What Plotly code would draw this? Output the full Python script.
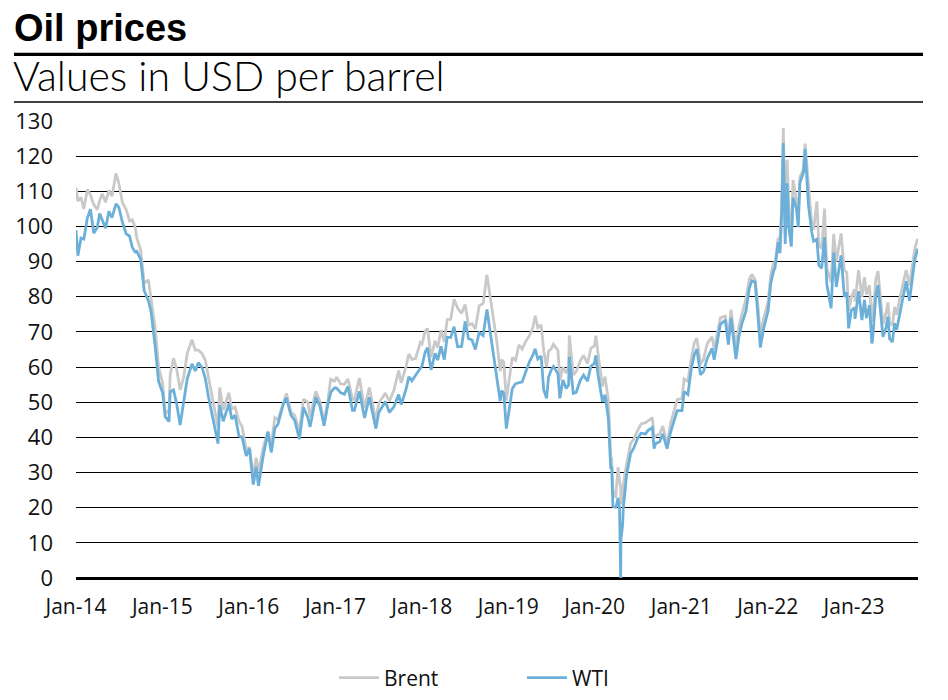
import plotly.graph_objects as go

# ---------------- data ----------------
dates_2014 = ["2014-01-01","2014-01-09","2014-01-22","2014-02-03","2014-02-18","2014-03-03","2014-03-17","2014-04-01","2014-04-11","2014-04-22","2014-05-06","2014-05-20","2014-06-02","2014-06-19","2014-07-01","2014-07-16","2014-08-01","2014-08-15","2014-08-27","2014-09-08","2014-09-15","2014-10-01","2014-10-16","2014-11-03","2014-11-14","2014-12-01","2014-12-16"]
brent_2014 = [111.0,107.2,108.3,105.0,110.5,109.0,106.2,104.8,107.3,109.3,106.9,110.3,108.6,115.1,112.3,106.8,104.8,101.6,101.9,99.8,96.7,93.4,83.8,84.8,79.4,71.4,59.9]
wti_2014 = [99.0,91.7,96.7,96.4,102.4,104.9,98.1,99.7,103.7,101.8,99.5,104.3,102.5,106.4,105.4,101.2,97.9,97.3,94.0,92.7,92.9,90.7,81.8,78.8,75.8,66.2,55.9]

dates_2015 = ["2015-01-02","2015-01-13","2015-01-29","2015-02-03","2015-02-17","2015-03-02","2015-03-17","2015-04-01","2015-04-16","2015-05-06","2015-05-20","2015-06-02","2015-06-17","2015-07-01","2015-07-15","2015-08-03","2015-08-24","2015-08-31","2015-09-15","2015-10-09","2015-10-21","2015-11-04","2015-11-20","2015-12-04","2015-12-21"]
brent_2015 = [55.4,46.6,48.0,57.9,62.5,59.5,53.5,57.1,63.9,67.8,64.8,64.8,63.9,62.0,57.1,49.5,42.7,54.2,47.8,52.7,48.1,48.6,44.7,43.0,36.4]
wti_2015 = [52.7,45.9,44.5,53.0,53.5,49.6,43.5,50.1,56.7,60.9,58.9,61.3,59.9,56.9,51.4,45.2,38.2,49.2,44.6,49.6,45.2,46.3,40.5,39.9,34.7]

dates_2016 = ["2016-01-04","2016-01-20","2016-02-01","2016-02-11","2016-03-01","2016-03-22","2016-04-05","2016-04-20","2016-05-03","2016-05-26","2016-06-08","2016-06-27","2016-07-13","2016-08-02","2016-08-19","2016-09-07","2016-09-16","2016-10-10","2016-10-27","2016-11-14","2016-11-30","2016-12-12","2016-12-28"]
brent_2016 = [37.2,28.5,34.2,30.1,36.8,41.8,37.7,45.6,45.0,49.6,52.5,47.2,46.3,41.8,50.9,49.9,45.8,53.1,50.3,44.4,50.5,56.5,56.0]
wti_2016 = [36.8,26.6,31.6,26.2,34.4,41.5,35.7,42.6,43.7,49.5,51.2,46.3,44.8,39.5,48.5,45.5,43.0,51.4,49.0,43.3,49.4,52.8,54.1]

dates_2017 = ["2017-01-06","2017-01-23","2017-02-08","2017-02-23","2017-03-14","2017-03-22","2017-04-12","2017-05-04","2017-05-24","2017-06-21","2017-07-03","2017-07-31","2017-08-17","2017-09-05","2017-09-25","2017-10-06","2017-10-27","2017-11-07","2017-11-20","2017-12-05","2017-12-26"]
brent_2017 = [57.1,55.2,55.1,56.6,50.9,50.6,56.9,48.4,54.2,44.8,49.7,52.6,50.3,53.4,59.0,55.5,60.4,63.7,62.2,62.4,67.0]
wti_2017 = [54.0,52.7,52.3,54.5,47.7,47.7,53.1,45.5,51.4,42.5,47.1,50.2,47.1,48.7,52.2,49.3,53.9,57.2,56.1,57.6,60.0]

dates_2018 = ["2018-01-02","2018-01-15","2018-01-25","2018-02-09","2018-02-26","2018-03-09","2018-03-23","2018-04-06","2018-04-18","2018-05-03","2018-05-17","2018-06-01","2018-06-18","2018-07-03","2018-07-17","2018-08-01","2018-08-15","2018-08-31","2018-09-17","2018-10-03","2018-10-17","2018-11-01","2018-11-15","2018-11-28","2018-12-04","2018-12-13","2018-12-24"]
brent_2018 = [66.6,70.3,71.0,62.8,67.5,65.5,70.5,67.1,73.5,73.6,79.3,76.8,75.3,77.8,71.9,72.4,70.8,77.4,78.1,86.3,80.1,72.9,66.6,58.8,62.1,61.5,50.5]
wti_2018 = [60.4,64.3,65.5,59.2,63.9,62.0,65.9,62.1,68.5,68.4,71.5,65.8,65.9,73.0,68.1,67.7,65.0,69.8,69.0,76.4,69.8,63.7,56.5,50.3,53.3,52.6,42.5]

dates_2019 = ["2019-01-02","2019-01-18","2019-02-01","2019-02-15","2019-03-01","2019-03-15","2019-04-01","2019-04-15","2019-04-25","2019-05-06","2019-05-20","2019-05-31","2019-06-12","2019-06-20","2019-07-01","2019-07-11","2019-07-30","2019-08-07","2019-08-20","2019-09-03","2019-09-13","2019-09-16","2019-10-03","2019-10-15","2019-11-01","2019-11-15","2019-12-02","2019-12-16","2019-12-31"]
brent_2019 = [55.0,62.7,61.9,66.3,65.1,67.2,69.0,71.2,74.6,71.2,72.0,64.5,60.0,64.5,65.1,66.5,64.7,56.2,60.0,58.3,60.2,69.0,57.7,58.7,61.7,63.3,61.0,65.3,66.0]
wti_2019 = [46.5,53.8,55.3,55.6,55.8,58.5,61.6,63.4,65.2,62.3,63.1,53.5,51.1,57.1,59.1,60.2,58.1,51.1,56.3,53.9,54.9,62.9,52.5,52.8,56.2,57.7,56.0,60.2,61.1]

dates_2020 = ["2020-01-06","2020-01-15","2020-02-03","2020-02-14","2020-02-28","2020-03-09","2020-03-13","2020-03-18","2020-03-30","2020-04-01","2020-04-09","2020-04-15","2020-04-20","2020-04-21","2020-04-28","2020-05-01","2020-05-15","2020-06-01","2020-06-15","2020-07-01","2020-07-15","2020-08-03","2020-08-14","2020-09-01","2020-09-08","2020-09-15","2020-10-01","2020-10-15","2020-11-02","2020-11-16","2020-12-01","2020-12-15"]
brent_2020 = [68.9,64.0,54.5,57.3,50.5,34.4,33.9,25.0,22.8,24.7,31.5,27.7,25.6,21.0,22.5,26.4,32.5,38.3,39.7,42.0,43.8,44.2,44.8,45.6,39.8,40.5,40.9,43.2,37.8,43.8,47.4,50.8]
wti_2020 = [63.3,58.0,50.1,52.1,45.3,31.1,31.7,20.4,20.1,20.3,22.8,19.9,0.0,11.0,15.0,19.8,29.4,35.4,37.1,39.8,41.2,41.0,42.0,42.8,36.8,38.3,38.7,41.0,36.8,41.3,44.6,47.6]

dates_2021 = ["2021-01-04","2021-01-13","2021-01-29","2021-02-12","2021-02-25","2021-03-08","2021-03-23","2021-04-05","2021-04-20","2021-05-11","2021-05-20","2021-06-15","2021-07-06","2021-07-19","2021-07-30","2021-08-20","2021-09-01","2021-09-15","2021-10-01","2021-10-15","2021-10-26","2021-11-09","2021-11-19","2021-12-01","2021-12-14","2021-12-31"]
brent_2021 = [51.1,56.6,55.9,62.4,66.9,68.2,60.8,62.2,66.6,68.6,65.1,74.0,74.5,68.6,76.3,65.2,71.6,75.5,79.3,84.9,86.4,84.8,78.9,68.9,73.7,77.8]
wti_2021 = [47.6,53.0,52.2,59.5,63.5,65.1,57.8,58.7,62.4,65.3,62.1,72.1,73.4,66.4,74.0,62.3,68.6,72.6,75.9,82.3,84.6,84.2,76.1,65.6,70.7,75.2]

dates_2022 = ["2022-01-03","2022-01-14","2022-01-26","2022-02-01","2022-02-14","2022-02-22","2022-03-01","2022-03-08","2022-03-11","2022-03-16","2022-03-24","2022-04-01","2022-04-11","2022-04-18","2022-05-02","2022-05-10","2022-05-17","2022-06-01","2022-06-08","2022-06-22","2022-07-06","2022-07-14","2022-07-28","2022-08-05","2022-08-17","2022-08-29","2022-09-08","2022-09-26","2022-10-07","2022-10-18","2022-11-07","2022-11-21","2022-12-01","2022-12-09","2022-12-20"]
brent_2022 = [78.9,86.1,89.9,89.2,96.5,96.8,105.0,128.0,112.7,98.0,119.0,104.4,98.5,113.2,107.6,102.5,114.0,116.3,123.6,111.7,100.7,99.1,107.1,94.9,93.7,105.1,88.2,84.1,97.9,90.0,98.0,87.5,86.9,76.1,79.9]
wti_2022 = [76.1,83.8,87.4,88.2,95.5,92.4,103.4,123.7,109.3,95.0,112.3,99.3,94.3,108.2,105.2,99.8,112.4,115.3,122.1,106.2,98.5,95.8,96.4,89.0,88.1,97.0,83.5,76.7,92.6,82.8,91.8,80.0,81.2,71.0,76.1]

dates_2023 = ["2023-01-03","2023-01-05","2023-01-20","2023-02-03","2023-02-14","2023-02-22","2023-03-07","2023-03-17","2023-03-20","2023-04-03","2023-04-12","2023-05-03","2023-05-15","2023-05-24","2023-05-31","2023-06-12","2023-06-21","2023-06-30","2023-07-14","2023-07-31","2023-08-09","2023-08-23","2023-08-31","2023-09-08","2023-09-15","2023-09-27"]
brent_2023 = [82.1,78.7,87.6,79.9,85.6,80.6,83.3,73.0,73.8,84.9,87.3,72.3,75.2,78.4,72.7,71.8,77.1,74.9,79.9,85.6,87.6,83.2,86.9,90.6,93.9,96.5]
wti_2023 = [76.9,73.7,81.6,73.4,79.1,73.9,77.6,66.7,67.6,80.4,83.3,68.6,71.1,74.3,68.1,67.1,72.5,70.6,75.4,81.8,84.4,78.9,83.6,87.5,90.8,93.7]

tick_dates = ["2014-01-01","2015-01-01","2016-01-01","2017-01-01","2018-01-01",
              "2019-01-01","2020-01-01","2021-01-01","2022-01-01","2023-01-01"]
tick_labels = ["Jan-14","Jan-15","Jan-16","Jan-17","Jan-18",
               "Jan-19","Jan-20","Jan-21","Jan-22","Jan-23"]
y_ticks = [0,10,20,30,40,50,60,70,80,90,100,110,120,130]

dates = (dates_2014 + dates_2015 + dates_2016 + dates_2017 + dates_2018 +
         dates_2019 + dates_2020 + dates_2021 + dates_2022 + dates_2023)
brent = (brent_2014 + brent_2015 + brent_2016 + brent_2017 + brent_2018 +
         brent_2019 + brent_2020 + brent_2021 + brent_2022 + brent_2023)
wti = (wti_2014 + wti_2015 + wti_2016 + wti_2017 + wti_2018 +
       wti_2019 + wti_2020 + wti_2021 + wti_2022 + wti_2023)
assert len(dates) == len(brent) == len(wti)

# ---------------- figure ----------------
FONT = "Open Sans, Noto Sans, sans-serif"
BRENT_C = "#c9c9c9"
WTI_C = "#6cb0da"

fig = go.Figure()
fig.add_trace(go.Scatter(x=dates, y=brent, name="Brent", mode="lines",
                         line=dict(color=BRENT_C, width=2.8)))
fig.add_trace(go.Scatter(x=dates, y=wti, name="WTI", mode="lines",
                         line=dict(color=WTI_C, width=2.8)))

W, H = 948, 700
L, R, T, B = 76, 30, 121, 122
pw, ph = W - L - R, H - T - B

def px(x):
    return (x - L) / pw

def py(y):
    return (H - B - y) / ph

fig.update_layout(
    width=W, height=H,
    margin=dict(l=L, r=R, t=T, b=B, autoexpand=False),
    paper_bgcolor="white", plot_bgcolor="white",
    font=dict(family=FONT, size=20, color="#111111"),
    showlegend=True,
    legend=dict(orientation="h", x=px(334), y=py(678), xanchor="left", yanchor="middle",
                font=dict(size=21, color="#111111"), itemwidth=40,
                entrywidth=133, entrywidthmode="pixels", bgcolor="rgba(0,0,0,0)"),
    xaxis=dict(type="date", range=["2014-01-01", "2023-09-28"],
               tickvals=tick_dates, ticktext=tick_labels,
               showgrid=False, zeroline=False, showline=False, ticks="",
               tickfont=dict(size=21, family=FONT, color="#111111"),
               ticklabelstandoff=14),
    yaxis=dict(range=[0, 130], tickvals=y_ticks,
               showgrid=True, gridcolor="#000000", gridwidth=1,
               zeroline=True, zerolinecolor="#000000", zerolinewidth=3,
               showline=False, ticks="",
               tickfont=dict(size=22, family=FONT, color="#111111"),
               ticklabelstandoff=22),
    annotations=[
        dict(text="<b>Oil prices</b>", xref="paper", yref="paper",
             x=px(12), y=py(4.8), xanchor="left", yanchor="top", showarrow=False,
             font=dict(size=38, family="Liberation Sans, Arial, sans-serif", color="#000000")),
        dict(text="Values in USD per barrel", xref="paper", yref="paper",
             x=px(11), y=py(48.6), xanchor="left", yanchor="top", showarrow=False,
             font=dict(size=41, family="Lato, Open Sans, sans-serif", color="#000000", weight=300)),
    ],
    shapes=[
        dict(type="line", xref="paper", yref="paper", x0=px(14), x1=px(923),
             y0=py(54.3), y1=py(54.3), line=dict(color="#000000", width=3.3)),
        dict(type="line", xref="paper", yref="paper", x0=px(14), x1=px(923),
             y0=py(102), y1=py(102), line=dict(color="#000000", width=1.3)),
    ],
)

fig.write_html("out.html", config={"displayModeBar": False},
               post_script="document.body.style.margin='0px';")
